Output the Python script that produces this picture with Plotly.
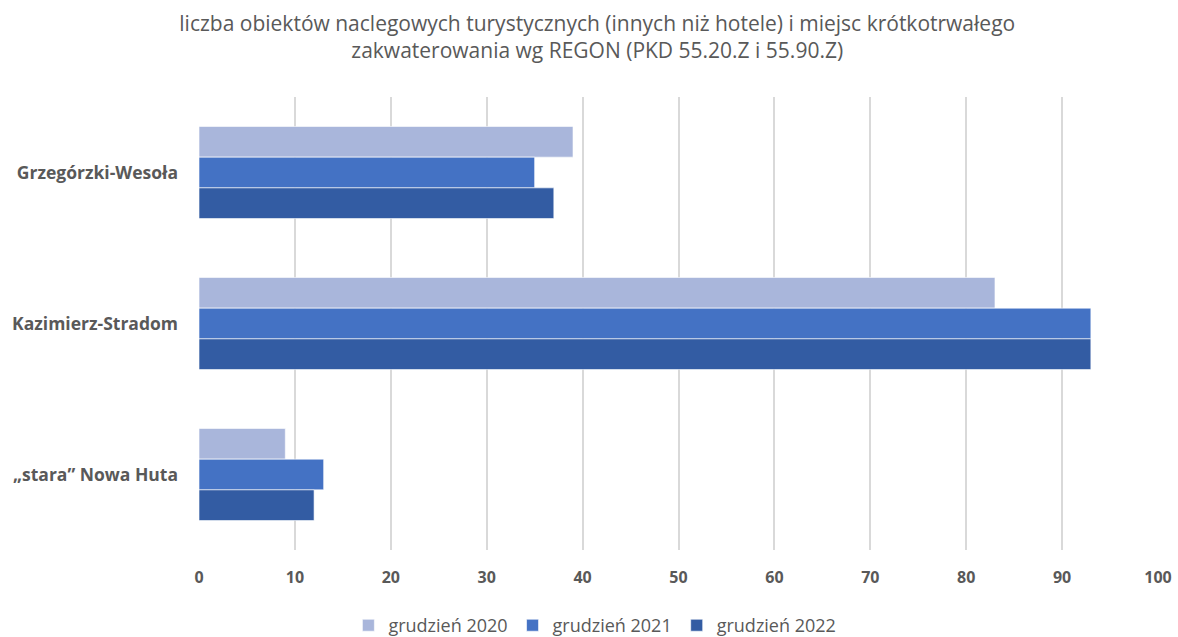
import plotly.graph_objects as go

categories = ["Grzegórzki-Wesoła", "Kazimierz-Stradom", "„stara” Nowa Huta"]
series_names = ["grudzień 2020", "grudzień 2021", "grudzień 2022"]
values_2020 = [39, 83, 9]
values_2021 = [35, 93, 13]
values_2022 = [37, 93, 12]
x_ticks = [0, 10, 20, 30, 40, 50, 60, 70, 80, 90, 100]

colors = ["#a9b6db", "#4472c4", "#335ca3"]
series_values = [values_2020, values_2021, values_2022]

fig = go.Figure()
for name, vals, col in zip(series_names, series_values, colors):
    fig.add_trace(go.Bar(
        y=categories, x=vals, name=name, orientation="h",
        marker=dict(color=col, line=dict(color="rgba(255,255,255,0.6)", width=1)),
    ))

fig.update_layout(
    width=1178, height=637,
    paper_bgcolor="white", plot_bgcolor="white",
    barmode="group", bargap=0.39, bargroupgap=0,
    margin=dict(l=199, r=20, t=97, b=87, autoexpand=False),
    title=dict(
        text="liczba obiektów naclegowych turystycznych (innych niż hotele) i miejsc krótkotrwałego<br>zakwaterowania wg REGON (PKD 55.20.Z i 55.90.Z)",
        x=0.507, xanchor="center", yref="container", y=0.952, yanchor="middle",
        font=dict(family="Open Sans", size=21, color="#595959"),
    ),
    xaxis=dict(
        range=[0, 100], tickvals=x_ticks, automargin=False,
        showgrid=True, gridcolor="#d9d9d9", gridwidth=2,
        zeroline=False, showline=False,
        tickfont=dict(family="Open Sans", size=16, color="#595959", weight="bold"),
        ticks="", ticklabelstandoff=16,
    ),
    yaxis=dict(
        autorange="reversed", automargin=False,
        showgrid=False, zeroline=False, showline=False,
        tickfont=dict(family="Open Sans", size=17.5, color="#595959", weight="bold"),
        ticks="", ticklabelstandoff=20,
    ),
    legend=dict(
        orientation="h", x=0.505, xref="container", xanchor="center",
        yref="container", y=0.018, yanchor="middle",
        font=dict(family="Open Sans", size=18, color="#595959"),
        traceorder="normal", itemwidth=30,
    ),
)

fig.write_html("out.html", config={"displayModeBar": False},
               post_script="document.body.style.margin='0';")
